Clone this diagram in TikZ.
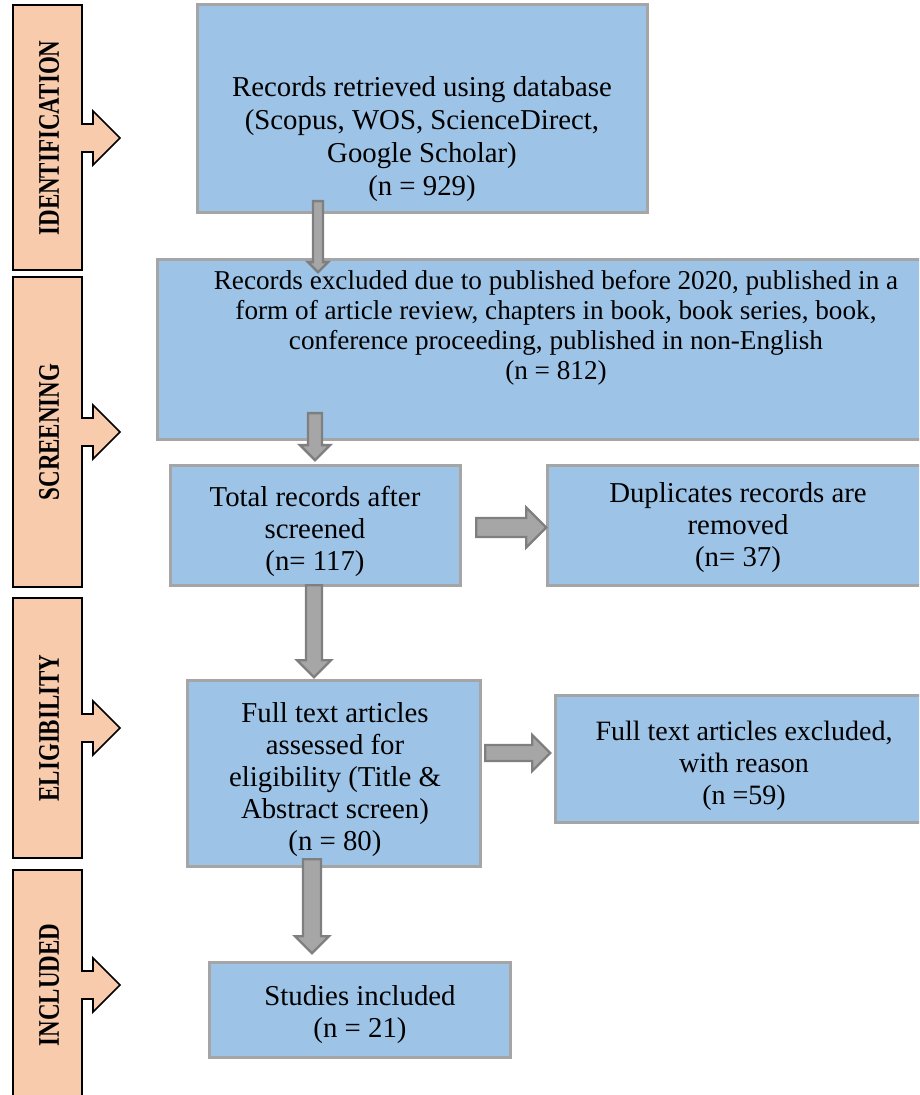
\documentclass[tikz,border=0pt]{standalone}
\usepackage{fontspec}
\setmainfont{Liberation Serif}
\usetikzlibrary{shapes.arrows,calc}

\definecolor{boxblue}{HTML}{9DC3E6}
\definecolor{boxedge}{HTML}{A5A5A5}
\definecolor{tabpeach}{HTML}{F8CBAD}
\definecolor{arrowgrey}{HTML}{A6A6A6}
\definecolor{arrowedge}{HTML}{7F7F7F}

\tikzset{
  box/.style={draw=boxedge, line width=1.5pt, fill=boxblue, inner sep=0pt},
  txt/.style={align=center, inner sep=0pt, font=\fontsize{14.4}{16}\selectfont},
  tab/.style={draw=black, line width=0.8pt, fill=tabpeach, line join=miter},
  tablabel/.style={rotate=90, inner sep=0pt, font=\bfseries\fontsize{11.5}{13}\selectfont},
  fat/.style={single arrow, draw=arrowedge, line width=1.2pt, fill=arrowgrey, anchor=tail,
    inner xsep=0pt, single arrow head indent=0pt, single arrow tip angle=90}
}

% 灰色粗箭头: 起点, 终点, 箭杆宽, 箭头宽 (像素)
\newcommand{\fatarrow}[4]{%
  \path let \p1=(#1), \p2=(#2), \n1={veclen(\x2-\x1,\y2-\y1)}, \n2={atan2(\y2-\y1,\x2-\x1)} in
    (\p1) node[fat, rotate=\n2, minimum height=\n1,
      inner ysep={(#3-2.4)/4}, single arrow head extend={(#4-#3)/4}] {};}

\begin{document}
\begin{tikzpicture}[x=0.5pt, y=-0.5pt]
    \useasboundingbox (0,0) rectangle (919,1095);
    \clip (0,0) rectangle (919,1095);

    % 左侧阶段标签
    \foreach \nm/\lab/\ya/\yb/\tip in {id/IDENTIFICATION/5/270/138, sc/SCREENING/277/587/432,
        el/ELIGIBILITY/598/858/728, inc/INCLUDED/870/1110/985} {
        \draw[tab] (13,\ya) -- (82,\ya) -- (82,\tip-14) -- (93,\tip-14) -- (93,\tip-27)
            -- (120,\tip) -- (93,\tip+27) -- (93,\tip+14) -- (82,\tip+14) -- (82,\yb) -- (13,\yb) -- cycle;
        \node[tablabel] (\nm) at (49,\tip) {\scalebox{1}[1.3]{\textbf{\lab}}};
    }

    % 方框
    \node[box, minimum width=225pt, minimum height=104pt] (b1) at (422,109) {};
    \node[box, minimum width=399pt, minimum height=90pt] (b2) at (556,350) {};
    \node[box, minimum width=145pt, minimum height=59.5pt] (b3) at (315,525.5) {};
    \node[box, minimum width=190pt, minimum height=59.5pt] (b4) at (737,525.5) {};
    \node[box, minimum width=146.5pt, minimum height=93pt] (b5) at (333.5,773) {};
    \node[box, minimum width=188pt, minimum height=63.5pt] (b6) at (743,758.5) {};
    \node[box, minimum width=150.5pt, minimum height=47.5pt] (b7) at (359.5,1009.5) {};

    % 文字
    \node[txt, font=\fontsize{14.4}{16.5}\selectfont] (t1) at (422,139) {Records retrieved using database\\(Scopus, WOS, ScienceDirect,\\Google Scholar)\\(n = 929)};
    \node[txt, font=\fontsize{13.6}{15}\selectfont] (t2) at (556,328) {Records excluded due to published before 2020, published in a\\form of article review, chapters in book, book series, book,\\conference proceeding, published in non-English\\(n = 812)};
    \node[txt] (t3) at (315,531) {Total records after\\screened\\(n= 117)};
    \node[txt] (t4) at (738,528) {Duplicates records are\\removed\\(n= 37)};
    \node[txt] (t5) at (335,780) {Full text articles\\assessed for\\eligibility (Title \&\\Abstract screen)\\(n = 80)};
    \node[txt, font=\fontsize{14}{16}\selectfont] (t6) at (744,766) {Full text articles excluded,\\with reason\\(n =59)};
    \node[txt] (t7) at (360,1015) {Studies included\\(n = 21)};

    % 箭头端点
    \coordinate (s12) at (318,200);   \coordinate (e12) at (318,271);
    \coordinate (s23) at (315,412);   \coordinate (e23) at (315,459);
    \coordinate (s35) at (314,584);   \coordinate (e35) at (314,676);
    \coordinate (s57) at (312,858);   \coordinate (e57) at (312,952);
    \coordinate (s34) at (475,527.5); \coordinate (e34) at (545,527.5);
    \coordinate (s56) at (484,753);   \coordinate (e56) at (549,753);

    \fatarrow{s12}{e12}{10}{20}
    \fatarrow{s23}{e23}{14}{30}
    \fatarrow{s35}{e35}{16}{34}
    \fatarrow{s57}{e57}{18}{34}
    \fatarrow{s34}{e34}{19}{40}
    \fatarrow{s56}{e56}{16}{36}
\end{tikzpicture}
\end{document}
